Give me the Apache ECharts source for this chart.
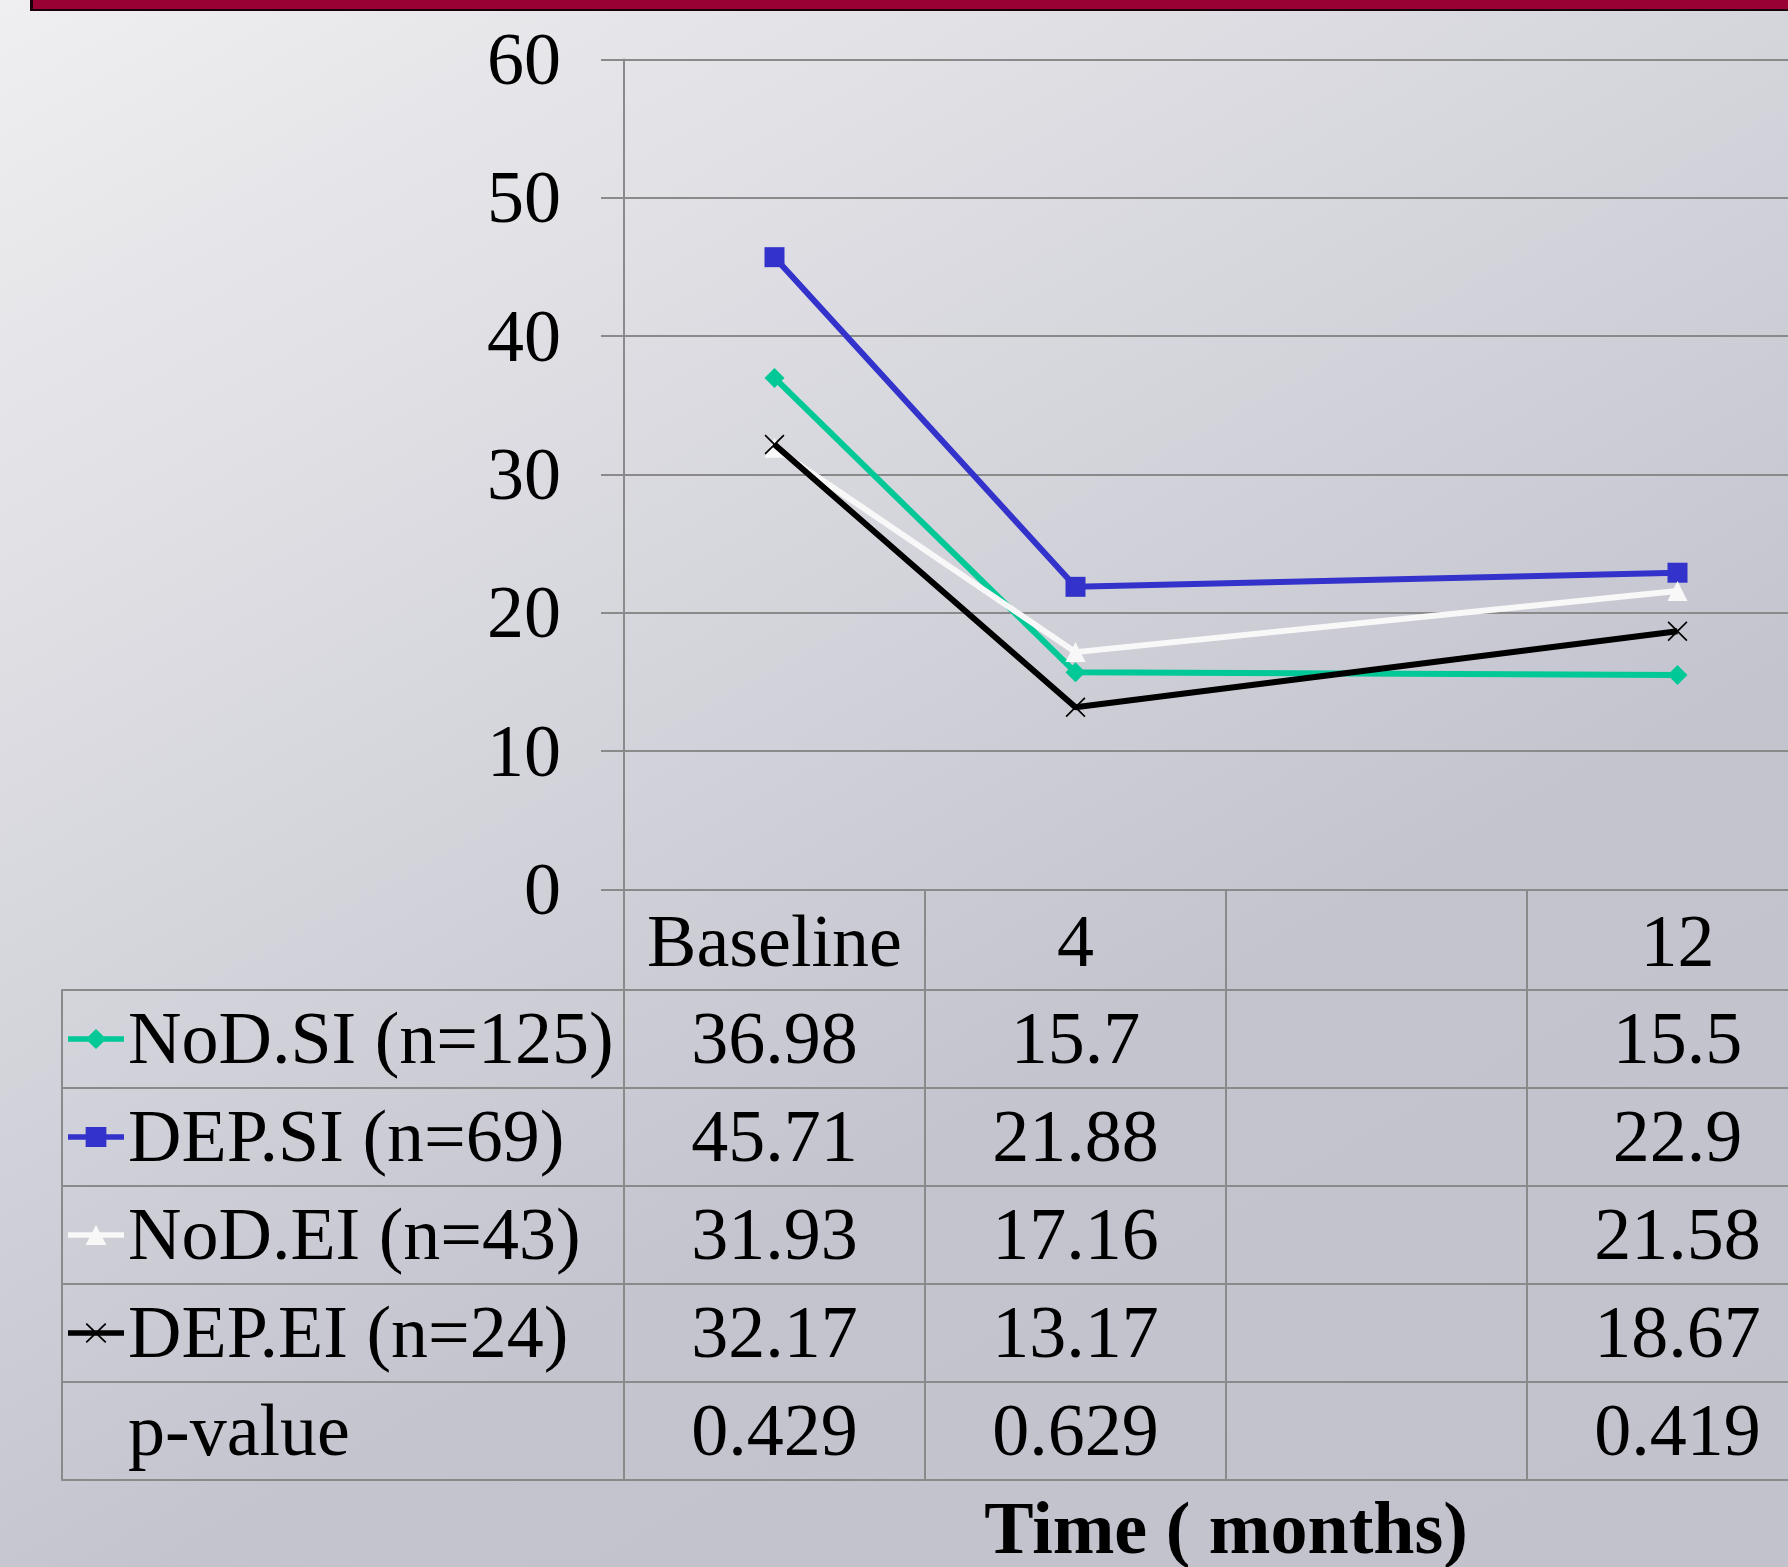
<!DOCTYPE html>
<html>
<head>
<meta charset="utf-8">
<script src="https://cdn.jsdelivr.net/npm/echarts@6/dist/echarts.min.js"></script>
<style>
  html, body { margin: 0; padding: 0; width: 1788px; height: 1567px; overflow: hidden; }
  body { background: linear-gradient(151deg, #EFEFF1 0%, #C4C4CF 65%, #C2C2CD 100%); position: relative; }
  #topbar { position: absolute; top: 0; left: 30px; right: 0; height: 9px; background: #990033; border-bottom: 2.5px solid #1a0008; border-left: 3px solid #1a0008; z-index: 5; }
  #chart { position: absolute; left: 0; top: 0; width: 1830px; height: 1567px; }
</style>
</head>
<body>
<div id="topbar"></div>
<div id="chart"></div>
<script>
// ---- data ----
const categories = ['Baseline', '4', '', '12'];
const seriesNames = ['NoD.SI (n=125)', 'DEP.SI (n=69)', 'NoD.EI (n=43)', 'DEP.EI (n=24)'];
const nodSI = [36.98, 15.7, null, 15.5];
const depSI = [45.71, 21.88, null, 22.9];
const nodEI = [31.93, 17.16, null, 21.58];
const depEI = [32.17, 13.17, null, 18.67];
const pLabel = 'p-value';
const pValues = [0.429, 0.629, null, 0.419];
const yMin = 0, yMax = 60, yInterval = 10;
const xTitle = 'Time ( months)';

// ---- styles ----
const FONT = '"Liberation Serif", "Times New Roman", serif';
const FS = 74;
const GRAY = '#8a8a8a';
const colors = ['#00C896', '#3333CC', '#F8F8F8', '#000000'];
const xPath = 'path://M0,1.2L1.2,0L10,8.8L18.8,0L20,1.2L11.2,10L20,18.8L18.8,20L10,11.2L1.2,20L0,18.8L8.8,10Z';
const symbols = ['diamond', 'rect', 'triangle', xPath];
const legLine = 'M1,7.3L55,7.3L55,12.7L1,12.7Z';
const legendIcons = [
  'path://' + legLine + 'M28,0L38,10L28,20L18,10Z',
  'path://' + legLine + 'M18,0L38,0L38,20L18,20Z',
  'path://' + legLine + 'M28,0L38,20L18,20Z',
  'path://' + legLine + 'M18,1.2L19.2,0L28,8.8L36.8,0L38,1.2L29.2,10L38,18.8L36.8,20L28,11.2L19.2,20L18,18.8L26.8,10Z'
];
const seriesData = [nodSI, depSI, nodEI, depEI];

const rowNames = seriesNames.concat([pLabel]);
const tableRows = seriesData.concat([pValues]);
const cellData = [];
tableRows.forEach((row, r) => {
  row.forEach((v, c) => { if (v !== null) cellData.push([c, r, v]); });
});

const richTxt = { t: { fontFamily: FONT, fontSize: FS, color: '#000', padding: [10, 0, 0, 0] } };
const wrap = (s) => '{t|' + s + '}';

const chart = echarts.init(document.getElementById('chart'), null, { renderer: 'canvas' });
chart.setOption({
  backgroundColor: 'transparent',
  animation: false,
  textStyle: { fontFamily: FONT },
  grid: [
    { left: 624, right: 2, top: 59.5, bottom: 677.5, outerBoundsMode: 'none', containLabel: false },
    { left: 624, right: 2, top: 990, bottom: 87, outerBoundsMode: 'none', containLabel: false, show: true, borderColor: GRAY, borderWidth: 2, backgroundColor: 'transparent' }
  ],
  legend: {
    orient: 'vertical', left: 68, top: 1029, padding: 0,
    itemWidth: 56, itemHeight: 20, itemGap: 78,
    data: seriesNames.map((n, i) => ({ name: n, icon: legendIcons[i] })),
    formatter: () => '',
    textStyle: { fontSize: 1 },
    itemStyle: { borderWidth: 0 },
    symbolKeepAspect: false,
    selectedMode: false
  },
  xAxis: [
    {
      type: 'category', gridIndex: 0, data: categories, boundaryGap: true,
      axisLine: { show: true, lineStyle: { color: GRAY, width: 2 } },
      axisTick: { show: true, length: 101, alignWithLabel: false, lineStyle: { color: GRAY, width: 2 } },
      axisLabel: { fontFamily: FONT, fontSize: FS, color: '#000', margin: 7, lineHeight: 101, interval: 0 },
      splitLine: { show: false }
    },
    {
      type: 'category', gridIndex: 1, data: categories, boundaryGap: true,
      axisLine: { show: false },
      axisTick: { show: false },
      axisLabel: { show: false },
      splitLine: { show: true, interval: 0, lineStyle: { color: GRAY, width: 2 } },
      name: xTitle, nameLocation: 'middle', nameGap: 17,
      nameTextStyle: { fontFamily: FONT, fontSize: FS, fontWeight: 'bold', color: '#000', lineHeight: 74 }
    }
  ],
  yAxis: [
    {
      type: 'value', gridIndex: 0, min: yMin, max: yMax, interval: yInterval,
      axisLine: { show: true, lineStyle: { color: GRAY, width: 2 } },
      axisTick: { show: true, length: 23, lineStyle: { color: GRAY, width: 2 } },
      axisLabel: { fontFamily: FONT, fontSize: FS, color: '#000', margin: 63, formatter: (v) => wrap(v), rich: richTxt },
      splitLine: { show: true, lineStyle: { color: GRAY, width: 2 } }
    },
    {
      type: 'category', gridIndex: 1, data: rowNames, inverse: true, boundaryGap: true,
      axisLine: { show: false },
      axisTick: { show: true, length: 562, interval: 0, lineStyle: { color: GRAY, width: 2 } },
      axisLabel: { fontFamily: FONT, fontSize: FS, color: '#000', align: 'left', margin: 496, interval: 0, formatter: (v) => wrap(v), rich: richTxt },
      splitLine: { show: true, interval: 0, lineStyle: { color: GRAY, width: 2 } }
    },
    {
      type: 'category', gridIndex: 1, data: rowNames, inverse: true, position: 'left', offset: 562,
      axisLine: { show: true, lineStyle: { color: GRAY, width: 2 } },
      axisTick: { show: false }, axisLabel: { show: false }, splitLine: { show: false }
    }
  ],
  series: seriesData.map((d, i) => ({
    name: seriesNames[i], type: 'line', xAxisIndex: 0, yAxisIndex: 0,
    data: d, connectNulls: true,
    symbol: symbols[i], symbolSize: 20, showAllSymbol: true,
    lineStyle: { color: colors[i], width: 6 },
    itemStyle: { color: colors[i], borderWidth: 0 },
    z: 2 + i
  })).concat([{
    name: 'table', type: 'scatter', xAxisIndex: 1, yAxisIndex: 1,
    data: cellData, symbolSize: 1, itemStyle: { color: 'rgba(0,0,0,0)', opacity: 1 },
    label: {
      show: true, position: 'inside', offset: [0, 5], formatter: (p) => String(p.value[2]),
      fontFamily: FONT, fontSize: FS, color: '#000', opacity: 1,
      textBorderWidth: 0, textBorderColor: 'transparent'
    },
    silent: true
  }])
});
</script>
</body>
</html>
